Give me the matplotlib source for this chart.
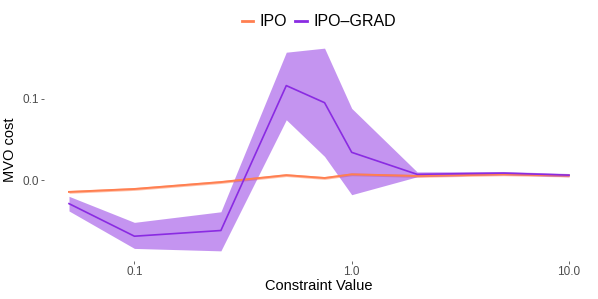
import matplotlib

matplotlib.use("Agg")
import matplotlib.pyplot as plt
import numpy as np

# constraint values (log x axis)
constraint = [0.05, 0.1, 0.25, 0.5, 0.75, 1.0, 2.0, 5.0, 10.0]

ipo_mean = [-0.0146, -0.011, -0.0025, 0.006, 0.0025, 0.007, 0.005, 0.007, 0.0055]
ipo_lo = [-0.0163, -0.0127, -0.0042, 0.0043, 0.0008, 0.0053, 0.0033, 0.0053, 0.0038]
ipo_hi = [-0.0129, -0.0093, -0.0008, 0.0077, 0.0042, 0.0087, 0.0067, 0.0087, 0.0072]

grad_mean = [-0.029, -0.069, -0.062, 0.116, 0.095, 0.034, 0.007, 0.0085, 0.006]
grad_lo = [-0.038, -0.084, -0.087, 0.074, 0.029, -0.018, 0.004, 0.0065, 0.004]
grad_hi = [-0.020, -0.052, -0.039, 0.157, 0.162, 0.088, 0.010, 0.0105, 0.008]

xticks = [0.1, 1.0, 10.0]
xticklabels = ["0.1", "1.0", "10.0"]
yticks = [0.0, 0.1]
yticklabels = ["0.0", "0.1"]

ORANGE = "#FF7F50"
PURPLE = "#8A2BE2"

plt.rcParams.update(
    {
        "font.family": ["Liberation Sans", "DejaVu Sans"],
        "axes.spines.top": False,
        "axes.spines.right": False,
        "axes.spines.left": False,
        "axes.spines.bottom": False,
    }
)

fig = plt.figure(figsize=(5.98, 2.99), dpi=100)
ax = fig.add_axes([44 / 598, 38 / 299, 550 / 598, 223 / 299])

ax.fill_between(constraint, ipo_lo, ipo_hi, color=ORANGE, alpha=0.5, lw=0)
ax.plot(constraint, ipo_mean, color=ORANGE, lw=1.4, label="IPO")
ax.fill_between(constraint, grad_lo, grad_hi, color=PURPLE, alpha=0.5, lw=0)
ax.plot(constraint, grad_mean, color=PURPLE, lw=1.2, label="IPO\u2013GRAD")

ax.set_xscale("log")
lx0, lx1 = np.log10(constraint[0]), np.log10(constraint[-1])
pad = 0.05 * (lx1 - lx0)
ax.set_xlim(10 ** (lx0 - pad), 10 ** (lx1 + pad))
ylo, yhi = min(grad_lo), max(grad_hi)
ax.set_ylim(ylo - 0.05 * (yhi - ylo), yhi + 0.05 * (yhi - ylo))

ax.set_xticks(xticks)
ax.set_xticklabels(xticklabels)
ax.xaxis.set_minor_locator(matplotlib.ticker.NullLocator())
ax.set_yticks(yticks)
ax.set_yticklabels(yticklabels)
ax.tick_params(axis="both", colors="#4D4D4D", labelsize=8.5, length=2, width=0.6, pad=1.5)

ax.set_xlabel("Constraint Value", fontsize=10.5, labelpad=1)
ax.set_ylabel("MVO cost", fontsize=10.5, labelpad=4)

# legend centred over the panel, as ggplot does
leg = fig.legend(
    loc="upper center",
    bbox_to_anchor=(319 / 598, 1.0),
    ncol=2,
    frameon=False,
    fontsize=11.5,
    handlelength=0.7,
    handletextpad=0.45,
    columnspacing=0.5,
)
for h in leg.legend_handles:
    h.set_linewidth(2)

fig.savefig("out.png", dpi=100)
